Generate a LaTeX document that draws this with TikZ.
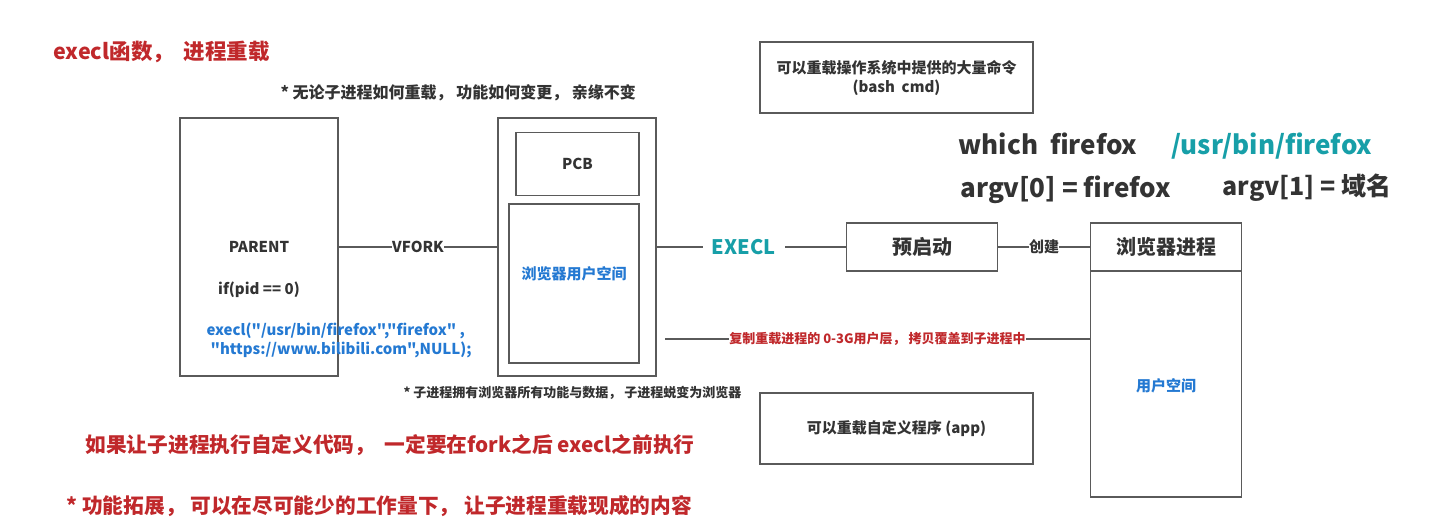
\documentclass[tikz,border=0pt]{standalone}
\usepackage{fontspec}
\setmainfont{Noto Sans CJK SC}[Ligatures=TeXOff]
\usepackage{tikz}
\definecolor{INK}{HTML}{333333}
\definecolor{EDGE}{HTML}{5A5A5A}
\definecolor{WARN}{HTML}{C0282B}
\definecolor{CODE}{HTML}{2479D2}
\definecolor{TEAL}{HTML}{179FA8}

\begin{document}
\begin{tikzpicture}[
  x=1pt, y=-1pt,
  font=\bfseries, text=INK,
  box/.style={draw=EDGE, line width=1.3pt, inner sep=0pt},
  link/.style={draw=EDGE, line width=1.3pt},
  tag/.style={fill=white, inner sep=0pt},
  note/.style={font=\fontsize{13}{16}\selectfont\bfseries},
  mid/.style={font=\fontsize{15}{18}\selectfont\bfseries},
  big/.style={font=\fontsize{20.7}{24}\selectfont\bfseries},
  huge/.style={font=\fontsize{26}{30}\selectfont\bfseries},
]
\useasboundingbox (0,0) rectangle (1429,526);

% headings
\node[big, text=WARN, anchor=west, font=\fontsize{21.5}{25}\selectfont\bfseries] (title) at (50,52) {execl函数，\ \ 进程重载};
\node[mid, anchor=west, font=\fontsize{16}{19}\selectfont\bfseries] (kin) at (277,93) {* 无论子进程如何重载，\ 功能如何变更，\ 亲缘不变};

% parent process
\node[box, mid, minimum width=158, minimum height=258] (parent) at (259,247) {PARENT};
\node[mid] (cond) at (259,290) {if(pid == 0)};
\node[mid, text=CODE, align=left, anchor=west, font=\fontsize{15}{19}\selectfont\bfseries] (call) at (203,340)
  {execl("/usr/bin/firefox","firefox" ,\\\hspace{4pt}"https://www.bilibili.com",NULL);};

% child process
\node[box, minimum width=158, minimum height=258] (child) at (577,247) {};
\node[box, mid, minimum width=123, minimum height=63] (pcb) at (577.5,164) {PCB};
\node[box, minimum width=130, minimum height=159] (uspace) at (574,283.5) {};
\node[mid, text=CODE] (uslabel) at (574,274) {浏览器用户空间};
\node[note, anchor=west] (morph) at (400,393) {* 子进程拥有浏览器所有功能与数据，\ 子进程蜕变为浏览器};

\draw[link] (parent) -- node[tag, mid]{VFORK} (child);

% preload and browser process
\node[box, big, minimum width=151, minimum height=48, font=\fontsize{20}{24}\selectfont\bfseries] (pre) at (922,247) {预启动};
\node[box, minimum width=151, minimum height=274] (proc) at (1166,360) {};
\node[box, big, minimum width=151, minimum height=48, anchor=north, font=\fontsize{20}{24}\selectfont\bfseries] (prochead) at (proc.north) {浏览器进程};
\node[mid, text=CODE] (procus) at (1166,386) {用户空间};

\draw[link] (child) -- node[tag, inner xsep=9pt, pos=0.46, text=TEAL, font=\fontsize{20}{24}\selectfont\bfseries]{EXECL} (pre);
\draw[link] (pre) -- node[tag, mid]{创建} (prochead);
\coordinate (cpy) at (665,339);
\draw[link] (cpy) -- node[tag, note, text=WARN]{复制重载进程的 0-3G用户层，\ 拷贝覆盖到子进程中} (cpy -| proc.west);

% what can be loaded
\node[box, minimum width=273, minimum height=71, align=center, font=\fontsize{15}{19}\selectfont\bfseries] (bash) at (896.5,77.5)
  {可以重载操作系统中提供的大量命令\\(bash\ \ cmd)};
\node[box, mid, minimum width=273, minimum height=71] (app) at (896.5,428.5) {可以重载自定义程序 (app)};

\node[huge, anchor=west] (which) at (955,144) {which\ \ firefox};
\node[huge, text=TEAL, anchor=west] (path) at (1168,146) {/usr/bin/firefox};
\node[huge, anchor=west] (argz) at (957,190) {argv[0] = firefox};
\node[huge, anchor=west, font=\fontsize{25}{29}\selectfont\bfseries] (argo) at (1219,188) {argv[1] = 域名};

% remarks
\node[big, text=WARN, anchor=west] (order) at (82,445) {如果让子进程执行自定义代码，\ \ 一定要在fork之后 execl之前执行};
\node[big, text=WARN, anchor=west] (extend) at (63,506) {* 功能拓展，\ 可以在尽可能少的工作量下，\ 让子进程重载现成的内容};

\end{tikzpicture}
\end{document}
